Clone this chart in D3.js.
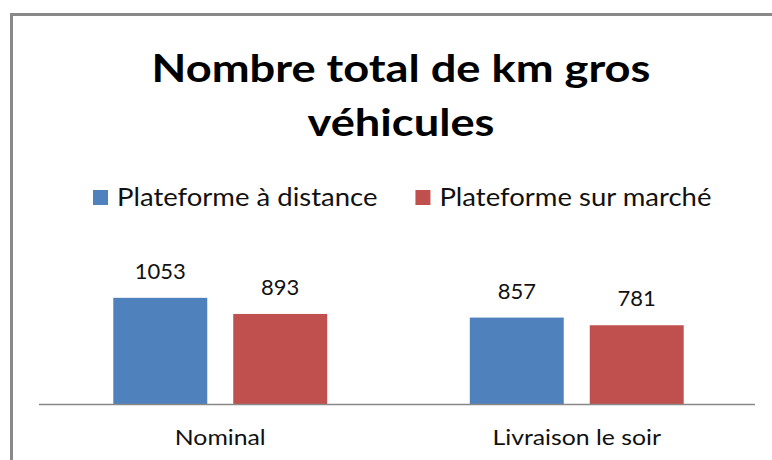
<!DOCTYPE html>
<html>
<head>
<meta charset="utf-8">
<script src="https://cdn.jsdelivr.net/npm/d3@7"></script>
<style>
  html, body { margin: 0; padding: 0; background: #fff; }
  svg { display: block; }
  text { font-family: Lato, "Open Sans", sans-serif; fill: #111; }
</style>
</head>
<body>
<svg id="chart" width="772" height="460"></svg>
<script>
// Chart data
const categories = ["Nominal", "Livraison le soir"];
const seriesNames = ["Plateforme à distance", "Plateforme sur marché"];
const seriesColors = ["#4f81bd", "#c0504d"];
const distanceValues = [1053, 857];
const marcheValues = [893, 781];
const titleLines = ["Nombre total de km gros", "véhicules"];

const seriesValues = [distanceValues, marcheValues];
const rows = categories.map((c, i) => ({
  category: c,
  values: seriesNames.map((s, j) => ({ series: s, value: seriesValues[j][i], color: seriesColors[j] }))
}));

// Widen glyphs horizontally to get a broader, Calibri-like set
function widen(sel, k) {
  sel.each(function () {
    const w = this.getComputedTextLength();
    d3.select(this).attr("textLength", w * k).attr("lengthAdjust", "spacingAndGlyphs");
  });
}

const svg = d3.select("#chart");

// Outer frame (extends past the right and bottom edges)
svg.append("rect")
  .attr("x", 11.5).attr("y", 14.5)
  .attr("width", 800).attr("height", 480)
  .attr("fill", "#fff")
  .attr("stroke", "#898989")
  .attr("stroke-width", 3);

// Title
const titleCx = 401;
svg.append("g").selectAll("text")
  .data(titleLines)
  .join("text")
  .attr("x", titleCx)
  .attr("y", (d, i) => 82 + i * 54)
  .attr("text-anchor", "middle")
  .style("font-size", "38px")
  .style("font-weight", "bold")
  .style("fill", "#000")
  .text(d => d)
  .call(widen, 1.19);

// Scales
const axisLeft = 39, plotLeft = 42, plotRight = 755, baseY = 404;
const x0 = d3.scaleBand().domain(categories).range([plotLeft, plotRight])
  .paddingInner(0.4).paddingOuter(0.2);
const x1 = d3.scaleBand().domain(seriesNames).range([0, x0.bandwidth()])
  .paddingInner(0.2167);
const y = d3.scaleLinear().domain([0, 1200]).range([baseY, 283]);

// Bars
const groups = svg.append("g").selectAll("g")
  .data(rows)
  .join("g")
  .attr("transform", d => `translate(${x0(d.category)},0)`);

groups.selectAll("rect")
  .data(d => d.values)
  .join("rect")
  .attr("x", d => x1(d.series))
  .attr("y", d => y(d.value))
  .attr("width", x1.bandwidth())
  .attr("height", d => baseY - y(d.value))
  .attr("fill", d => d.color);

// Value labels
groups.selectAll("text.val")
  .data(d => d.values)
  .join("text")
  .attr("class", "val")
  .attr("x", d => x1(d.series) + x1.bandwidth() / 2)
  .attr("y", d => y(d.value) - 19)
  .attr("text-anchor", "middle")
  .style("font-size", "22px")
  .text(d => d.value);

// Category axis
const xAxis = d3.axisBottom(x0).tickSize(0).tickPadding(0);
const axisG = svg.append("g")
  .attr("transform", `translate(0,${baseY})`)
  .call(xAxis);
axisG.select(".domain")
  .attr("d", `M${axisLeft},0.5H${plotRight}`)
  .attr("stroke", "#898989")
  .attr("stroke-width", 1.5);
axisG.selectAll(".tick text")
  .attr("y", 41)
  .attr("dy", null)
  .style("font-size", "21px")
  .style("font-family", "Lato, 'Open Sans', sans-serif")
  .style("fill", "#111")
  .call(widen, 1.18);

// Legend
const legend = svg.append("g");
let lx = 93;
seriesNames.forEach((name, i) => {
  legend.append("rect")
    .attr("x", lx).attr("y", 190)
    .attr("width", 15).attr("height", 15)
    .attr("fill", seriesColors[i]);
  const t = legend.append("text")
    .attr("x", lx + 24).attr("y", 206)
    .style("font-size", "25px")
    .text(name);
  const w = t.node().getComputedTextLength() * 1.1;
  t.attr("textLength", w).attr("lengthAdjust", "spacingAndGlyphs");
  lx = lx + 24 + w + 38;
});
</script>
</body>
</html>
